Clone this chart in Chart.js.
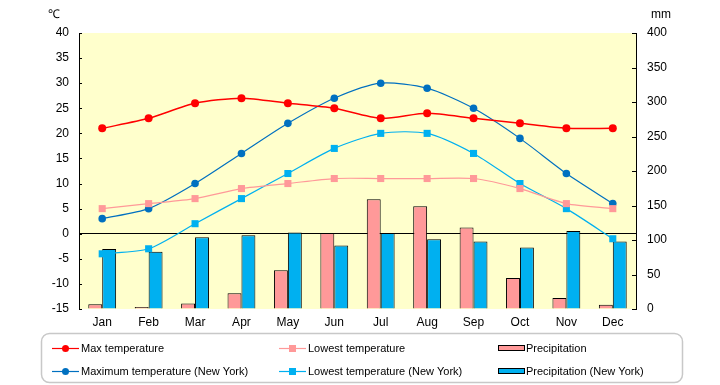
<!DOCTYPE html>
<html>
<head>
<meta charset="utf-8">
<script src="https://cdn.jsdelivr.net/npm/chart.js@4"></script>
<style>
  html, body { margin: 0; padding: 0; background: #ffffff; }
  #wrap { width: 720px; height: 385px; position: relative; }
</style>
</head>
<body>
<div id="wrap"><canvas id="climateChart"></canvas></div>
<script>
// chart data
const months = ['Jan', 'Feb', 'Mar', 'Apr', 'May', 'Jun', 'Jul', 'Aug', 'Sep', 'Oct', 'Nov', 'Dec'];
const maxTemp = [21, 23, 26, 27, 26, 25, 23, 24, 23, 22, 21, 21];
const lowTemp = [5, 6, 7, 9, 10, 11, 11, 11, 11, 9, 6, 5];
const maxTempNY = [3, 5, 10, 16, 22, 27, 30, 29, 25, 19, 12, 6];
const lowTempNY = [-4, -3, 2, 7, 12, 17, 20, 20, 16, 10, 5, -1];
const precip = [7, 3, 8, 23, 56, 110, 159, 149, 118, 45, 16, 6];
const precipNY = [87, 83, 104, 107, 111, 92, 110, 101, 98, 89, 113, 98];
const tempTicks = [-15, -10, -5, 0, 5, 10, 15, 20, 25, 30, 35, 40];
const mmTicks = [0, 50, 100, 150, 200, 250, 300, 350, 400];

const FONT = '"Liberation Sans", Arial, sans-serif';

// plot background, inward tick marks, unit labels
const backdrop = {
  id: 'backdrop',
  beforeDraw(chart) {
    const { ctx, chartArea: a } = chart;
    ctx.save();
    ctx.fillStyle = '#FFFFCC';
    ctx.fillRect(a.left, a.top, a.right - a.left, a.bottom - a.top);
    ctx.restore();
  },
  afterDraw(chart) {
    const { ctx, chartArea: a, scales } = chart;
    ctx.save();
    ctx.strokeStyle = '#000';
    ctx.lineWidth = 1;
    ctx.beginPath();
    tempTicks.forEach(v => {
      const y = Math.round(scales.y.getPixelForValue(v)) + 0.5;
      ctx.moveTo(a.left, y); ctx.lineTo(a.left + 3, y);
    });
    mmTicks.forEach(v => {
      const y = Math.round(scales.y2.getPixelForValue(v)) + 0.5;
      ctx.moveTo(a.right - 4, y); ctx.lineTo(a.right, y);
    });
    ctx.stroke();
    ctx.fillStyle = '#000';
    ctx.font = '12px ' + FONT;
    ctx.textBaseline = 'middle';
    ctx.fillText('\u2103', 48, 15);
    ctx.fillText('mm', 651, 15);
    ctx.restore();
  }
};

// legend box in three columns, like the spreadsheet one
const boxLegend = {
  id: 'boxLegend',
  afterDraw(chart) {
    const ctx = chart.ctx;
    const ds = chart.data.datasets;
    ctx.save();
    ctx.strokeStyle = '#C8C8C8';
    ctx.lineWidth = 1.5;
    ctx.beginPath();
    ctx.roundRect(41.5, 333.5, 641, 49, 8);
    ctx.stroke();

    const cols = [52, 279, 498];
    const rows = [348, 371];
    ctx.font = '11px ' + FONT;
    ctx.textBaseline = 'middle';
    ds.forEach((d, i) => {
      const x = cols[i % 3];
      const y = rows[Math.floor(i / 3)];
      if (d.type === 'line') {
        ctx.strokeStyle = d.borderColor;
        ctx.lineWidth = 1.2;
        ctx.beginPath();
        ctx.moveTo(x, y + 0.5); ctx.lineTo(x + 27, y + 0.5);
        ctx.stroke();
        ctx.fillStyle = d.pointBackgroundColor;
        if (d.pointStyle === 'rect') {
          ctx.fillRect(x + 10, y - 3, 7, 7);
        } else {
          ctx.beginPath();
          ctx.arc(x + 13.5, y + 0.5, 3.5, 0, Math.PI * 2);
          ctx.fill();
        }
        ctx.fillStyle = '#000';
        ctx.fillText(d.label, x + 29, y + 1);
      } else {
        ctx.fillStyle = d.backgroundColor;
        ctx.fillRect(x, y - 3, 26, 5);
        ctx.strokeStyle = '#000';
        ctx.lineWidth = 1;
        ctx.strokeRect(x + 0.5, y - 3 + 0.5, 26, 5);
        ctx.fillStyle = '#000';
        ctx.fillText(d.label, x + 28, y + 1);
      }
    });
    ctx.restore();
  }
};

new Chart(document.getElementById('climateChart'), {
  data: {
    labels: months,
    datasets: [
      {
        type: 'line', label: 'Max temperature', data: maxTemp, yAxisID: 'y', order: 0,
        borderColor: '#FF0000', backgroundColor: '#FF0000', pointBackgroundColor: '#FF0000',
        borderWidth: 1.5, pointRadius: 4, pointBorderWidth: 0, pointStyle: 'circle', tension: 0.25
      },
      {
        type: 'line', label: 'Lowest temperature', data: lowTemp, yAxisID: 'y', order: 0,
        borderColor: '#FF9999', backgroundColor: '#FF9999', pointBackgroundColor: '#FF9999',
        borderWidth: 1.2, pointRadius: 5, pointBorderWidth: 0, pointStyle: 'rect', tension: 0.25
      },
      {
        type: 'bar', label: 'Precipitation', data: precip, yAxisID: 'y2', order: 1,
        backgroundColor: '#FF9999', borderColor: '#000', borderWidth: 1,
        categoryPercentage: 0.6, barPercentage: 1
      },
      {
        type: 'line', label: 'Maximum temperature (New York)', data: maxTempNY, yAxisID: 'y', order: 0,
        borderColor: '#0070C0', backgroundColor: '#0070C0', pointBackgroundColor: '#0070C0',
        borderWidth: 1.2, pointRadius: 3.8, pointBorderWidth: 0, pointStyle: 'circle', tension: 0.25
      },
      {
        type: 'line', label: 'Lowest temperature (New York)', data: lowTempNY, yAxisID: 'y', order: 0,
        borderColor: '#00B0F0', backgroundColor: '#00B0F0', pointBackgroundColor: '#00B0F0',
        borderWidth: 1.2, pointRadius: 5, pointBorderWidth: 0, pointStyle: 'rect', tension: 0.25
      },
      {
        type: 'bar', label: 'Precipitation (New York)', data: precipNY, yAxisID: 'y2', order: 1,
        backgroundColor: '#00B0F0', borderColor: '#000', borderWidth: 1,
        categoryPercentage: 0.6, barPercentage: 1
      }
    ]
  },
  options: {
    responsive: true,
    maintainAspectRatio: false,
    animation: false,
    layout: { padding: { top: 33, left: 0, right: 0, bottom: 0 } },
    plugins: {
      legend: { display: false },
      tooltip: { enabled: false }
    },
    scales: {
      x: {
        offset: true,
        grid: { display: false, drawTicks: false },
        border: { display: false },
        ticks: { color: '#000', font: { family: FONT, size: 12 }, padding: 6, maxRotation: 0 },
        afterFit(scale) { scale.height = 76; }
      },
      y: {
        position: 'left',
        min: -15, max: 40,
        afterBuildTicks(scale) { scale.ticks = tempTicks.map(v => ({ value: v })); },
        grid: {
          drawTicks: false,
          color: ctx => (ctx.tick && ctx.tick.value === 0 ? '#000' : 'rgba(0,0,0,0)'),
          lineWidth: 1
        },
        border: { display: true, color: '#000', width: 1 },
        ticks: { color: '#000', font: { family: FONT, size: 12 }, padding: 10 },
        afterFit(scale) { scale.width = 79; }
      },
      y2: {
        position: 'right',
        min: 0, max: 400,
        afterBuildTicks(scale) { scale.ticks = mmTicks.map(v => ({ value: v })); },
        grid: { drawOnChartArea: false, drawTicks: false },
        border: { display: true, color: '#000', width: 1 },
        ticks: { color: '#000', font: { family: FONT, size: 12 }, padding: 11 },
        afterFit(scale) { scale.width = 84; }
      }
    }
  },
  plugins: [backdrop, boxLegend]
});
</script>
</body>
</html>
